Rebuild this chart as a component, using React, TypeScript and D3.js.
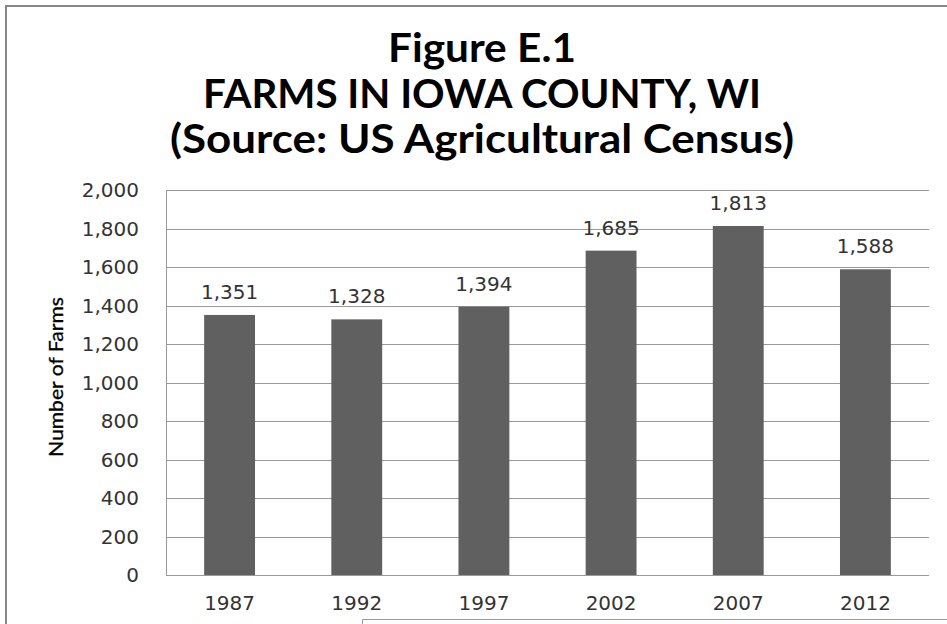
import React, { useRef, useEffect } from "react";
import * as d3 from "d3";

const years = ["1987", "1992", "1997", "2002", "2007", "2012"];
const farms = [1351, 1328, 1394, 1685, 1813, 1588];
const yTicks = [0, 200, 400, 600, 800, 1000, 1200, 1400, 1600, 1800, 2000];
const titleLines = [
    "Figure E.1",
    "FARMS IN IOWA COUNTY, WI",
    "(Source: US Agricultural Census)",
];
const titleWidths = [188, 558, 624];
const yAxisTitle = "Number of Farms";

export const FarmsChart = () => {
    const svgRef = useRef<SVGSVGElement>(null);

    useEffect(() => {
        if (!svgRef.current) return;

        const svg = d3.select(svgRef.current);
        svg.selectAll("*").remove();

        const width = 947;
        const height = 624;
        const margin = { top: 190, right: 18, bottom: 49, left: 166 };

        const x = d3
            .scaleBand()
            .domain(years)
            .range([margin.left, width - margin.right])
            .paddingInner(0.6)
            .paddingOuter(0.3);

        const y = d3
            .scaleLinear()
            .domain([0, 2000])
            .range([height - margin.bottom, margin.top]);

        // outer frame
        svg.append("path")
            .attr("d", `M6,${height} V6 H${width}`)
            .attr("fill", "none")
            .attr("stroke", "#888")
            .attr("stroke-width", 2);

        // title
        svg.append("g")
            .selectAll("text")
            .data(titleLines)
            .enter()
            .append("text")
            .attr("x", 482)
            .attr("y", (d, i) => 62 + i * 45.5)
            .attr("text-anchor", "middle")
            .attr("font-family", "Lato, sans-serif")
            .attr("font-weight", "bold")
            .attr("font-size", 40)
            .attr("textLength", (d, i) => titleWidths[i])
            .attr("lengthAdjust", "spacingAndGlyphs")
            .attr("fill", "#000")
            .text((d) => d);

        // gridlines
        svg.append("g")
            .selectAll("line")
            .data(yTicks)
            .enter()
            .append("line")
            .attr("x1", margin.left)
            .attr("x2", width - margin.right)
            .attr("y1", (d) => Math.round(y(d)) + 0.5)
            .attr("y2", (d) => Math.round(y(d)) + 0.5)
            .attr("stroke", "#999")
            .attr("stroke-width", 1);

        svg.append("line")
            .attr("x1", margin.left + 0.5)
            .attr("x2", margin.left + 0.5)
            .attr("y1", y(2000))
            .attr("y2", y(0))
            .attr("stroke", "#999");

        // y tick labels
        const fmt = d3.format(",");
        svg.append("g")
            .selectAll("text")
            .data(yTicks)
            .enter()
            .append("text")
            .attr("x", 139)
            .attr("y", (d) => y(d) + 7)
            .attr("text-anchor", "end")
            .attr("font-family", "DejaVu Sans, sans-serif")
            .attr("font-size", 20)
            .attr("fill", "#333")
            .text((d) => fmt(d));

        // y axis title
        svg.append("text")
            .attr("transform", "translate(63,377) rotate(-90)")
            .attr("text-anchor", "middle")
            .attr("font-family", "Lato, sans-serif")
            .attr("font-size", 19)
            .attr("textLength", 160)
            .attr("lengthAdjust", "spacingAndGlyphs")
            .attr("fill", "#000")
            .attr("stroke", "#000")
            .attr("stroke-width", 0.3)
            .text(yAxisTitle);

        // bars
        svg.append("g")
            .selectAll("rect")
            .data(farms)
            .enter()
            .append("rect")
            .attr("x", (d, i) => x(years[i]) || 0)
            .attr("y", (d) => y(d))
            .attr("width", x.bandwidth())
            .attr("height", (d) => y(0) - y(d))
            .attr("fill", "#606060");

        // value labels
        svg.append("g")
            .selectAll("text")
            .data(farms)
            .enter()
            .append("text")
            .attr("x", (d, i) => (x(years[i]) || 0) + x.bandwidth() / 2)
            .attr("y", (d) => y(d) - 16)
            .attr("text-anchor", "middle")
            .attr("font-family", "DejaVu Sans, sans-serif")
            .attr("font-size", 20)
            .attr("fill", "#333")
            .text((d) => fmt(d));

        // x labels
        svg.append("g")
            .selectAll("text")
            .data(years)
            .enter()
            .append("text")
            .attr("x", (d) => (x(d) || 0) + x.bandwidth() / 2)
            .attr("y", 610)
            .attr("text-anchor", "middle")
            .attr("font-family", "DejaVu Sans, sans-serif")
            .attr("font-size", 20)
            .attr("fill", "#333")
            .text((d) => d);

        // overlapping box corner at bottom
        svg.append("path")
            .attr("d", `M362.5,${height} V619.5 H${width}`)
            .attr("fill", "none")
            .attr("stroke", "#999")
            .attr("stroke-width", 1);

        svg.attr("width", width)
            .attr("height", height)
            .attr("viewBox", [0, 0, width, height])
            .attr("style", "position: absolute; left: 0; top: 0; background: #fff;");
    }, []);

    return <svg ref={svgRef} />;
};

export default FarmsChart;
